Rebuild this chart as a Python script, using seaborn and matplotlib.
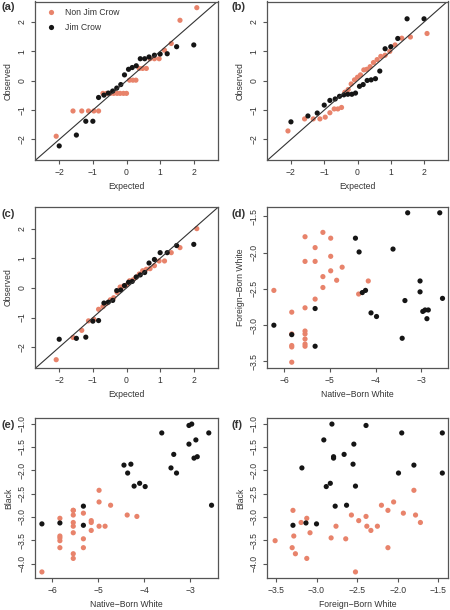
import matplotlib
matplotlib.use('Agg')
import pandas as pd
import seaborn as sns
import matplotlib.pyplot as plt

# Cuantiles esperados (QQ)
exp_non = [-2.09, -1.59, -1.33, -1.13, -0.97, -0.83, -0.70, -0.59, -0.48, -0.38, -0.28, -0.19, -0.09, 0.00,
           0.09, 0.19, 0.28, 0.38, 0.48, 0.59, 0.70, 0.83, 0.97, 1.13, 1.33, 1.59, 2.09]
exp_jim = [-2.00, -1.49, -1.21, -1.00, -0.83, -0.67, -0.54, -0.41, -0.29, -0.17, -0.06,
           0.06, 0.17, 0.29, 0.41, 0.54, 0.67, 0.83, 1.00, 1.21, 1.49, 2.00]

# Observados, paneles (a), (b), (c)
obs_a_non = [-1.89, -1.03, -1.03, -1.03, -1.03, -1.03, -0.43, -0.43, -0.43, -0.43, -0.43, -0.43, -0.43, -0.43,
             0.02, 0.02, 0.02, 0.42, 0.42, 0.42, 0.75, 0.75, 0.75, 1.04, 1.27, 2.06, 2.49]
obs_a_jim = [-2.22, -1.85, -1.38, -1.38, -0.57, -0.49, -0.42, -0.35, -0.25, -0.13, 0.20,
             0.39, 0.45, 0.51, 0.75, 0.75, 0.81, 0.87, 0.91, 0.92, 1.16, 1.22]
obs_b_non = [-1.71, -1.30, -1.30, -1.30, -1.24, -1.09, -0.96, -0.96, -0.91, -0.39, -0.30, -0.11, 0.03, 0.12,
             0.20, 0.37, 0.39, 0.48, 0.62, 0.72, 0.83, 0.87, 1.00, 1.22, 1.45, 1.49, 1.61]
obs_b_jim = [-1.40, -1.20, -1.10, -0.83, -0.67, -0.62, -0.53, -0.48, -0.46, -0.46, -0.42,
             -0.19, -0.13, 0.01, 0.03, 0.07, 0.33, 1.09, 1.16, 1.44, 2.11, 2.11]
obs_c_non = [-2.42, -1.67, -1.43, -1.11, -1.06, -0.72, -0.63, -0.52, -0.40, -0.33, -0.15, 0.03, 0.06, 0.10,
             0.24, 0.27, 0.36, 0.47, 0.58, 0.63, 0.65, 0.75, 0.91, 0.91, 1.19, 1.36, 2.00]
obs_c_jim = [-1.73, -1.70, -1.66, -1.12, -1.10, -0.51, -0.48, -0.42, -0.09, -0.07, 0.08,
             0.19, 0.22, 0.37, 0.44, 0.52, 0.84, 0.96, 1.19, 1.19, 1.43, 1.47]

# Valores por estado: Native-Born White, Foreign-Born White, Black
nbw_non = [-5.83, -5.54, -5.83, -5.83, -5.54, -5.54, -5.83, -5.54, -5.54, -5.83, -5.54, -5.32, -4.37, -6.22,
           -5.15, -4.16, -4.85, -5.15, -4.98, -4.73, -5.54, -5.32, -4.98, -5.32, -5.54, -4.98, -5.15]
fbw_non = [-3.51, -3.29, -3.28, -3.30, -3.26, -3.19, -3.12, -3.12, -3.08, -2.82, -2.76, -2.64, -2.57, -2.52,
           -2.48, -2.39, -2.38, -2.33, -2.25, -2.20, -2.12, -2.12, -2.05, -1.93, -1.78, -1.80, -1.72]
blk_non = [-3.51, -2.86, -3.41, -3.66, -3.79, -3.12, -3.03, -3.89, -3.34, -3.45, -3.20, -3.47, -2.96, -4.18,
           -3.08, -2.99, -3.20, -3.29, -3.20, -2.75, -2.86, -3.66, -2.68, -2.92, -2.96, -2.43, -3.12]
nbw_jim = [-6.22, -5.83, -5.32, -5.32, -4.44, -4.36, -4.29, -4.22, -4.10, -3.98, -3.62,
           -3.42, -3.36, -3.30, -3.03, -3.03, -2.97, -2.92, -2.88, -2.85, -2.60, -2.54]
fbw_jim = [-3.00, -3.13, -2.77, -3.29, -1.80, -1.99, -2.55, -2.52, -2.83, -2.88, -1.95,
           -3.18, -2.66, -1.45, -2.39, -2.54, -2.81, -2.79, -2.91, -2.79, -1.45, -2.63]
blk_jim = [-3.15, -3.13, -2.77, -3.18, -1.89, -2.06, -1.87, -2.34, -2.28, -2.35, -1.20,
           -1.95, -1.66, -2.06, -1.04, -1.44, -1.01, -1.74, -1.35, -1.71, -1.20, -2.75]

GROUPS = ['Non Jim Crow', 'Jim Crow']
ORANGE = '#E8836B'
BLACK = '#151515'
palette = {GROUPS[0]: ORANGE, GROUPS[1]: BLACK}

sns.set_style('ticks')
plt.rcParams['font.family'] = ['Liberation Sans', 'DejaVu Sans']

FS = 6.2
GRAY = '#555555'
TXT = '#333333'


def make_df(x_non, y_non, x_jim, y_jim):
    # primero Non Jim Crow para que los puntos negros queden encima
    return pd.DataFrame({
        'x': list(x_non) + list(x_jim),
        'y': list(y_non) + list(y_jim),
        'group': [GROUPS[0]] * len(x_non) + [GROUPS[1]] * len(x_jim),
    })


fig = plt.figure(figsize=(4.5, 6.1), dpi=100)
W, H = 450, 610


def add_ax(left, top, right, bottom):
    return fig.add_axes([left / W, 1 - bottom / H, (right - left) / W, (bottom - top) / H])


def panel(ax, df, xlim, ylim, xticks, yticks, xlabel, ylabel, letter, lx, ly, qq=False, legend=False):
    sns.scatterplot(data=df, x='x', y='y', hue='group', hue_order=GROUPS, palette=palette,
                    s=14, linewidth=0, ax=ax, legend=legend)
    if qq:
        ax.axline((0, 0), slope=1, color='#333333', lw=0.8, zorder=1)
    ax.set_xlim(xlim)
    ax.set_ylim(ylim)
    ax.set_xticks(xticks)
    ax.set_yticks(yticks)
    ax.set_xlabel(xlabel, fontsize=FS, color=TXT, labelpad=3.5)
    ax.set_ylabel(ylabel, fontsize=FS, color=TXT, labelpad=3.5)
    ax.tick_params(direction='out', length=3, width=0.8, color=GRAY, labelsize=FS,
                   labelcolor=TXT, pad=3)
    ax.tick_params(axis='y', labelrotation=90)
    plt.setp(ax.get_yticklabels(), va='center')
    for sp in ax.spines.values():
        sp.set_visible(True)
        sp.set_color(GRAY)
        sp.set_linewidth(0.9)
    fig.text(lx / W, 1 - ly / H, letter, fontsize=8, fontweight='bold', color=TXT,
             ha='left', va='center')
    if legend:
        sns.move_legend(ax, 'upper left', title=None, frameon=False, fontsize=FS,
                        handletextpad=0.7, borderaxespad=0.4, labelspacing=0.6, markerscale=1.0)
        for t in ax.get_legend().get_texts():
            t.set_color(TXT)


qq_lim = (-2.72, 2.72)
qq_ticks = [-2, -1, 0, 1, 2]

ax_a = add_ax(35, 1.5, 218, 160)
panel(ax_a, make_df(exp_non, obs_a_non, exp_jim, obs_a_jim), qq_lim, (-2.70, 2.70),
      qq_ticks, qq_ticks, 'Expected', 'Observed', '(a)', 1, 7, qq=True, legend=True)

ax_b = add_ax(267, 1.5, 448, 160)
panel(ax_b, make_df(exp_non, obs_b_non, exp_jim, obs_b_jim), qq_lim, (-2.70, 2.70),
      qq_ticks, qq_ticks, 'Expected', 'Observed', '(b)', 231, 7, qq=True)

ax_c = add_ax(35, 207, 218, 368)
panel(ax_c, make_df(exp_non, obs_c_non, exp_jim, obs_c_jim), qq_lim, (-2.70, 2.73),
      qq_ticks, qq_ticks, 'Expected', 'Observed', '(c)', 2, 214, qq=True)

ax_d = add_ax(267, 207, 448, 368)
panel(ax_d, make_df(nbw_non, fbw_non, nbw_jim, fbw_jim), (-6.37, -2.42), (-3.59, -1.37),
      [-6, -5, -4, -3], [-3.5, -3.0, -2.5, -2.0, -1.5],
      'Native\u2212Born White', 'Foreign\u2212Born White', '(d)', 231, 214)

ax_e = add_ax(35, 418, 218, 578)
panel(ax_e, make_df(nbw_non, blk_non, nbw_jim, blk_jim), (-6.37, -2.40), (-4.31, -0.88),
      [-6, -5, -4, -3], [-4.0, -3.5, -3.0, -2.5, -2.0, -1.5, -1.0],
      'Native\u2212Born White', 'Black', '(e)', 1, 425)

ax_f = add_ax(267, 418, 448, 578)
panel(ax_f, make_df(fbw_non, blk_non, fbw_jim, blk_jim), (-3.61, -1.38), (-4.31, -0.88),
      [-3.5, -3.0, -2.5, -2.0, -1.5], [-4.0, -3.5, -3.0, -2.5, -2.0, -1.5, -1.0],
      'Foreign\u2212Born White', 'Black', '(f)', 231, 425)

fig.savefig('out.png', dpi=100, facecolor='white')
